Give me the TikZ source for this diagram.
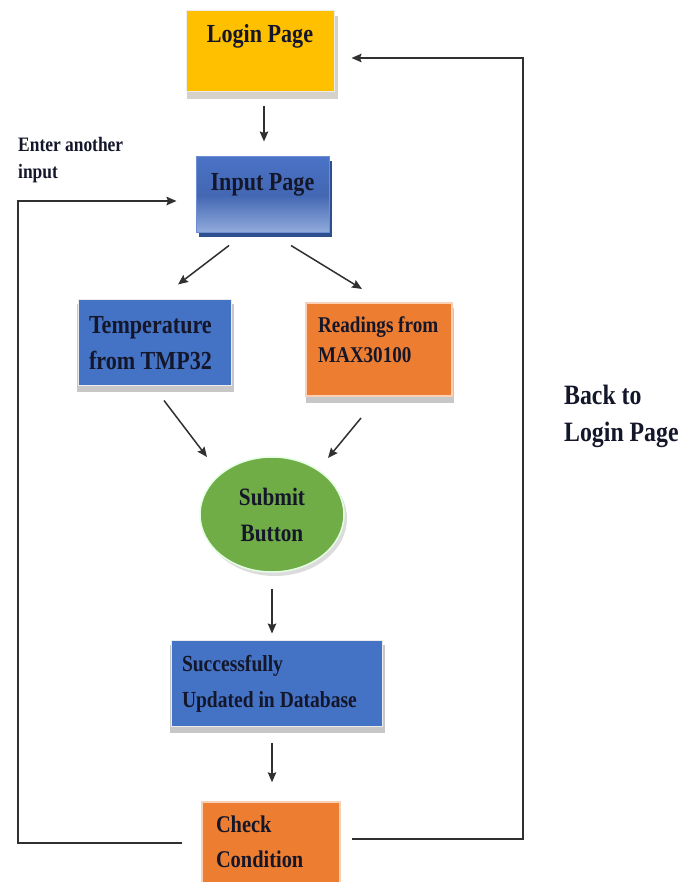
\documentclass[tikz,border=0pt]{standalone}
\usepackage{fontspec}
\newfontfamily\tfont[FakeStretch=0.85]{Liberation Serif}
\usetikzlibrary{arrows.meta,shadows,shapes.geometric}
\definecolor{cLogin}{HTML}{FFC000}
\definecolor{cBlue}{HTML}{4472C4}
\definecolor{cOrange}{HTML}{ED7D31}
\definecolor{cGreen}{HTML}{70AD47}
\definecolor{cInTop}{HTML}{4A72C6}
\definecolor{cInBot}{HTML}{93ACDD}
\definecolor{cInShadow}{HTML}{2D4F8E}
\definecolor{cTxt}{HTML}{14162A}
\definecolor{cLine}{HTML}{303030}
% centered box text: width, height, first baseline from top, font size, baselineskip, text
\newcommand{\bxc}[6]{\parbox[c][#2pt][t]{#1pt}{\tfont\bfseries\fontsize{#4pt}{#5pt}\selectfont\centering\rule{0pt}{#3pt}#6}}
% left box text: width, height, first baseline from top, font size, baselineskip, indent, text
\newcommand{\bxl}[7]{\parbox[c][#2pt][t]{#1pt}{\tfont\bfseries\fontsize{#4pt}{#5pt}\selectfont\raggedright\leftskip=#6pt\rule{0pt}{#3pt}#7}}
\begin{document}
\begin{tikzpicture}[x=1pt,y=-1pt,
  box/.style={rectangle, inner sep=0pt, text=cTxt, line width=1pt},
  greyshadow/.style={drop shadow={shadow xshift=1pt, shadow yshift=-6pt, shadow scale=1.02, fill=gray!55, opacity=0.8}},
  conn/.style={draw=cLine, line width=1.5pt},
  arr/.style={conn, -{Stealth[length=10pt,width=8.5pt,inset=1.5pt]}},
  lbl/.style={inner sep=0pt, anchor=north west, align=left, text=cTxt}
]
\useasboundingbox (0,0) rectangle (687,882);
\fill[white] (0,0) rectangle (687,882);
\clip (0,0) rectangle (687,882);

\node[box, fill=cLogin, draw=gray!15, drop shadow={shadow xshift=2pt, shadow yshift=-6pt, shadow scale=1.02, fill=brown!25!gray!45, opacity=0.8}]
  (login) at (260,51.5) {\bxc{148}{81}{32}{26}{34}{Login Page}};

\node[box, top color=cInTop, bottom color=cInBot, middle color=cInTop!90!black, draw=cInTop!80,
  drop shadow={shadow xshift=3pt, shadow yshift=-4pt, fill=cInShadow, opacity=1}]
  (input) at (262.5,195) {\bxc{133}{76}{34}{26}{34}{Input Page}};

\node[box, fill=cBlue, draw=gray!15, greyshadow]
  (temp) at (154.5,342) {\bxl{153}{86}{34}{26}{36}{11}{\mbox{Temperature}\\\mbox{from TMP32}}};

\node[box, fill=cOrange, draw=cOrange!35, line width=2pt, greyshadow]
  (read) at (379,349.5) {\bxl{146}{93}{29}{22.5}{30}{12}{\mbox{Readings from}\\\mbox{MAX30100}}};

\node[ellipse, minimum width=144pt, minimum height=115pt, inner sep=0pt, fill=cGreen, draw=green!10, line width=1.5pt, text=cTxt,
  align=center, font=\tfont\bfseries\fontsize{25pt}{36pt}\selectfont,
  drop shadow={shadow xshift=3pt, shadow yshift=-4pt, fill=gray!45, opacity=0.6}]
  (submit) at (272,514.5) {Submit\\Button};

\node[box, fill=cBlue, draw=gray!15, greyshadow]
  (succ) at (276.5,683) {\bxl{211}{86}{31}{23}{36}{11}{\mbox{Successfully}\\\mbox{Updated in Database}}};

\node[box, fill=cOrange, draw=cOrange!35, line width=1.5pt]
  (check) at (271,846) {\bxl{138}{88}{30}{24}{35}{14}{\mbox{Check}\\\mbox{Condition}}};

\node[lbl, font=\tfont\bfseries\fontsize{20.5pt}{27pt}\selectfont] (enter) at (18,137.5) {Enter another\\input};
\node[lbl, font=\tfont\bfseries\fontsize{28pt}{37pt}\selectfont] (back) at (564,384.5) {Back to\\Login Page};

\coordinate (rt) at (523,58);
\coordinate (lt) at (18,201);

% straight connectors
\draw[arr] ([shift={(4,14)}]login.south) -- ([shift={(1.5,-15)}]input.north);
\draw[arr] ([shift={(-33.5,12)}]input.south) -- ([shift={(23.5,-14)}]temp.north);
\draw[arr] ([shift={(28.5,12)}]input.south) -- ([shift={(-17,-13)}]read.north);
\draw[arr] ([shift={(9.5,15)}]temp.south) -- ([shift={(-65,-57.5)}]submit.center);
\draw[arr] ([shift={(-18,21)}]read.south) -- ([shift={(56,-56.5)}]submit.center);
\draw[arr] ([shift={(0,16)}]submit.south) -- ([shift={(-4.5,-6)}]succ.north);
\draw[arr] ([shift={(-4.5,16)}]succ.south) -- ([shift={(1,-19)}]check.north);

% loops
\draw[arr] ([shift={(11,-7)}]check.east) -| (rt) -- ([shift={(17,6.5)}]login.east);
\draw[arr] ([shift={(-19,-3)}]check.west) -| (lt) -- ([shift={(-19,6)}]input.west);
\end{tikzpicture}
\end{document}
